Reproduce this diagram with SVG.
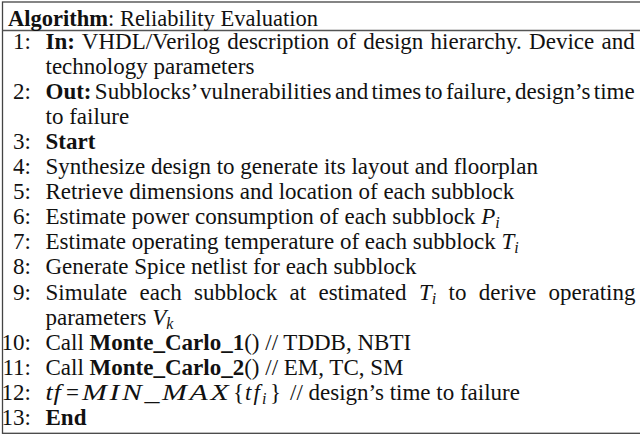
<svg xmlns="http://www.w3.org/2000/svg" width="640" height="435" viewBox="0 0 640 435">
  <style>
    text { font-family: 'Liberation Serif', 'DejaVu Serif', serif; font-size: 23px; fill: #111; }
    .cap { font-size: 22.5px; }
    .n { text-anchor: end; }
    .b { font-weight: bold; }
    .m { font-style: italic; }
    .sub { font-size: 16px; }
    .frame { fill: none; stroke: #444; stroke-width: 1.3; }
    .rule { stroke: #555; stroke-width: 1.3; }
  </style>

  <rect width="640" height="435" fill="#fff"/>

  <!-- algorithm box -->
  <rect class="frame" x="2.5" y="2" width="640" height="431.3"/>
  <line class="rule" x1="2.5" y1="30.5" x2="640" y2="30.5"/>

  <!-- caption -->
  <g id="caption">
    <text class="cap" x="8" y="26"><tspan class="b">Algorithm</tspan>: Reliability Evaluation</text>
  </g>

  <!-- line numbers -->
  <g id="numbers">
    <text class="n" x="31" y="48.5">1:</text>
    <text class="n" x="31" y="98.7">2:</text>
    <text class="n" x="31" y="148.9">3:</text>
    <text class="n" x="31" y="174">4:</text>
    <text class="n" x="31" y="199.1">5:</text>
    <text class="n" x="31" y="224.2">6:</text>
    <text class="n" x="31" y="249.3">7:</text>
    <text class="n" x="31" y="274.4">8:</text>
    <text class="n" x="31" y="299.5">9:</text>
    <text class="n" x="31" y="349.7">10:</text>
    <text class="n" x="31" y="374.8">11:</text>
    <text class="n" x="31" y="399.9">12:</text>
    <text class="n" x="31" y="425">13:</text>
  </g>

  <!-- statements -->
  <g id="line1">
    <text x="45.5" y="48.5" word-spacing="1.6"><tspan class="b">In:</tspan> VHDL/Verilog description of design hierarchy. Device and</text>
    <text x="45.5" y="73.6">technology parameters</text>
  </g>
  <g id="line2">
    <text x="45.5" y="98.7" word-spacing="-2.4"><tspan class="b">Out:</tspan> Subblocks’ vulnerabilities and times to failure, design’s time</text>
    <text x="45.5" y="123.8">to failure</text>
  </g>
  <g id="line3">
    <text x="45.5" y="148.9" class="b">Start</text>
  </g>
  <g id="line4">
    <text x="45.5" y="174">Synthesize design to generate its layout and floorplan</text>
  </g>
  <g id="line5">
    <text x="45.5" y="199.1">Retrieve dimensions and location of each subblock</text>
  </g>
  <g id="line6">
    <text x="45.5" y="224.2">Estimate power consumption of each subblock <tspan class="m">P</tspan><tspan class="m sub" dy="4">i</tspan></text>
  </g>
  <g id="line7">
    <text x="45.5" y="249.3">Estimate operating temperature of each subblock <tspan class="m">T</tspan><tspan class="m sub" dy="4">i</tspan></text>
  </g>
  <g id="line8">
    <text x="45.5" y="274.4">Generate Spice netlist for each subblock</text>
  </g>
  <g id="line9">
    <text x="45.5" y="299.5" word-spacing="6.6">Simulate each subblock at estimated <tspan class="m">T</tspan><tspan class="m sub" dy="4">i</tspan><tspan dy="-4"> to derive operating</tspan></text>
    <text x="45.5" y="324.6">parameters <tspan class="m">V</tspan><tspan class="m sub" dy="4">k</tspan></text>
  </g>
  <g id="line10">
    <text x="45.5" y="349.7">Call <tspan class="b">Monte_Carlo_1</tspan>() // TDDB, NBTI</text>
  </g>
  <g id="line11">
    <text x="45.5" y="374.8">Call <tspan class="b">Monte_Carlo_2</tspan>() // EM, TC, SM</text>
  </g>
  <g id="line12">
    <!-- math: tf = MIN_MAX{tf_i}, widened to math-italic proportions -->
    <text class="m" transform="translate(45.5,399.9) scale(1.15,1)" letter-spacing="0.5">tf</text>
    <text x="66" y="399.9">=</text>
    <text class="m" transform="translate(82,399.9) scale(1.3,1)" letter-spacing="2">MIN_MAX</text>
    <text y="399.9"><tspan x="233">{</tspan><tspan class="m" x="245" letter-spacing="2">tf</tspan><tspan class="m sub" x="262" dy="4">i</tspan><tspan x="270" dy="-4">}</tspan><tspan x="290">// design’s time to failure</tspan></text>
  </g>
  <g id="line13">
    <text x="45.5" y="425" class="b">End</text>
  </g>
</svg>
